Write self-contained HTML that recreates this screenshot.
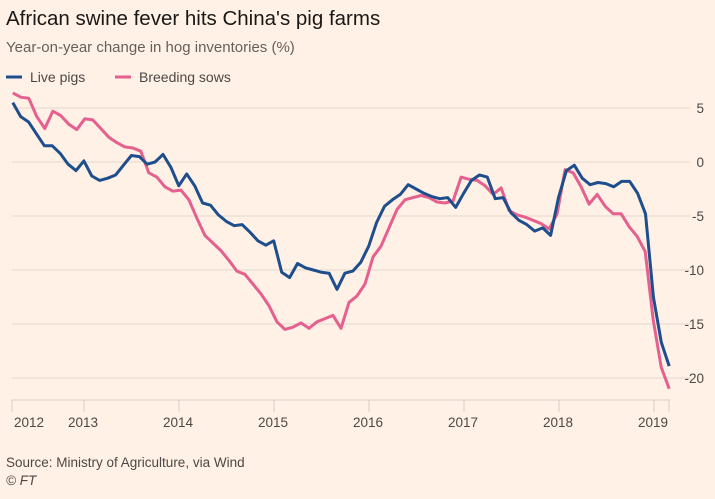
<!DOCTYPE html>
<html><head><meta charset="utf-8"><style>
body{margin:0;background:#fff1e5;font-family:"Liberation Sans",sans-serif}
svg{display:block}
</style></head><body>
<svg width="715" height="499">
<text x="6" y="25" font-size="20.5" fill="#1a1817">African swine fever hits China's pig farms</text>
<text x="6" y="52" font-size="15" fill="#66605c">Year-on-year change in hog inventories (%)</text>
<g>
<line x1="6" y1="77" x2="22" y2="77" stroke="#1f4e8c" stroke-width="3"/>
<text x="30" y="82" font-size="14" fill="#4d4845">Live pigs</text>
<line x1="115" y1="77" x2="131" y2="77" stroke="#e5608e" stroke-width="3"/>
<text x="139" y="82" font-size="14" fill="#4d4845">Breeding sows</text>
</g>
<g id="grid"></g>
<g id="series"></g>
<text x="6" y="467" font-size="13.5" fill="#4d4845">Source: Ministry of Agriculture, via Wind</text>
<text x="6" y="485" font-size="13.5" font-style="italic" fill="#4d4845">© FT</text>
</svg>
<script>
const yTicks=[5,0,-5,-10,-15,-20];
const years=[2012,2013,2014,2015,2016,2017,2018,2019];
const startYear=2012.25, endYear=2019.16;
const livePigs=[5.5,4.2,3.7,2.6,1.5,1.5,0.8,-0.2,-0.8,0.1,-1.3,-1.7,-1.5,-1.2,-0.3,0.6,0.5,-0.2,0,0.7,-0.5,-2.2,-1.1,-2.2,-3.8,-4,-4.9,-5.5,-5.9,-5.8,-6.5,-7.3,-7.7,-7.3,-10.2,-10.7,-9.4,-9.8,-10,-10.2,-10.3,-11.8,-10.3,-10.1,-9.3,-7.8,-5.6,-4.1,-3.5,-3,-2.1,-2.5,-2.9,-3.2,-3.4,-3.3,-4.2,-2.9,-1.7,-1.2,-1.4,-3.4,-3.3,-4.7,-5.4,-5.8,-6.4,-6.1,-6.8,-3.3,-0.8,-0.3,-1.5,-2.1,-1.9,-2.0,-2.3,-1.8,-1.8,-2.9,-4.8,-12.5,-16.7,-18.9];
const sows=[6.4,6.0,5.9,4.2,3.1,4.7,4.3,3.5,3.0,4.0,3.9,3.1,2.3,1.8,1.4,1.3,1.0,-1.0,-1.4,-2.3,-2.7,-2.6,-3.5,-5.2,-6.8,-7.5,-8.2,-9.1,-10.1,-10.4,-11.3,-12.2,-13.3,-14.8,-15.5,-15.3,-14.9,-15.4,-14.8,-14.5,-14.2,-15.4,-13.0,-12.4,-11.3,-8.8,-7.8,-6.1,-4.4,-3.5,-3.3,-3.1,-3.3,-3.7,-3.8,-3.6,-1.4,-1.6,-1.7,-2.2,-3.0,-2.4,-4.5,-4.9,-5.1,-5.4,-5.7,-6.2,-4.8,-0.7,-1.0,-2.3,-3.9,-3.0,-4.1,-4.8,-4.8,-6.0,-6.9,-8.3,-14.6,-19.0,-21.0];
const NS="http://www.w3.org/2000/svg";
const xT=t=>84+(t-2013)*95;
const y=v=>162-v*10.8;
const grid=document.getElementById('grid');
function mk(tag,attrs,parent){const e=document.createElementNS(NS,tag);for(const k in attrs)e.setAttribute(k,attrs[k]);parent.appendChild(e);return e;}
yTicks.forEach(v=>{
 const l=mk('line',{x1:12,x2:690,y1:y(v),y2:y(v),stroke:'#e3d8cd','stroke-width':1},grid);
 
 
 const t=mk('text',{x:704,y:y(v)+5,'font-size':13.5,fill:'#4d4845','text-anchor':'end'},grid);
 t.textContent=v;
 
 
});
const ax=mk('line',{x1:12,x2:670,y1:400,y2:400,stroke:'#d8cdc2','stroke-width':1},grid);


const tickPos=[startYear-0.25+0.25].concat(years.slice(1)).concat([endYear]);
const tp=[12].concat(years.slice(1).map(xT)).concat([669]);
tp.forEach(px=>{
 const l=mk('line',{x1:px,x2:px,y1:400,y2:412,stroke:'#d8cdc2','stroke-width':1},grid);
 
 
});
years.forEach((yr,i)=>{
 const px=i===0?14:xT(yr)-16;
 const t=mk('text',{x:px,y:427,'font-size':13.5,fill:'#4d4845'},grid);
 t.textContent=yr;
 
 
});
const ser=document.getElementById('series');
function line(data,color,name){
 const step=(endYear-startYear)/(data.length-1);
 const d=data.map((v,i)=>(i?'L':'M')+xT(startYear+i*step).toFixed(1)+','+y(v).toFixed(1)).join('');
 const p=mk('path',{d:d,fill:'none',stroke:color,'stroke-width':3,'stroke-linejoin':'round'},ser);
 
 
}
line(sows,'#e5608e','breeding-sows-line');
line(livePigs,'#1f4e8c','live-pigs-line');
</script>
</body></html>
